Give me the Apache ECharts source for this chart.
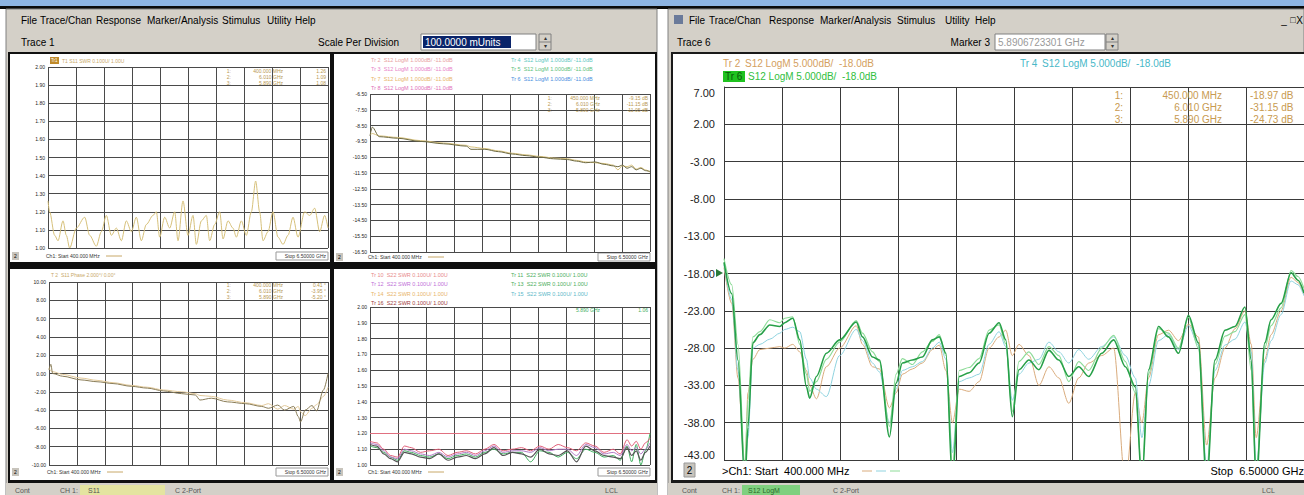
<!DOCTYPE html>
<html><head><meta charset="utf-8">
<script src="https://cdn.jsdelivr.net/npm/echarts@6/dist/echarts.min.js"></script>
<style>html,body{margin:0;padding:0;background:#fff;overflow:hidden}#c{width:1304px;height:495px}</style>
</head><body><div id="c"></div>
<script>
// ---------- DATA ----------
// Right window: S12 LogM, 400 MHz .. 6.5 GHz
const rFreq = [0.400,0.481,0.547,0.620,0.652,0.704,0.777,0.882,0.987,1.039,1.123,1.197,1.267,1.301,1.372,1.476,1.616,1.791,1.857,1.962,2.035,2.140,2.210,2.276,2.381,2.486,2.591,2.664,2.734,2.803,2.874,2.978,3.083,3.188,3.293,3.363,3.432,3.502,3.607,3.712,3.817,3.922,4.026,4.131,4.236,4.372,4.498,4.621,4.726,4.795,4.865,4.970,5.075,5.180,5.285,5.389,5.476,5.564,5.669,5.774,5.879,5.945,5.997,6.088,6.154,6.259,6.364,6.437,6.500];
const tr6 = [-16.5,-20.7,-29.6,-46,-38.6,-27.3,-26.2,-24.9,-25.1,-24.6,-24.0,-26.9,-33.2,-34.7,-31.8,-28.7,-26.9,-24.5,-26.5,-29.2,-29.6,-39.9,-32.7,-30.0,-29.6,-29.2,-26.9,-26.5,-28.7,-46,-31.8,-31.3,-30.0,-26.0,-24.6,-26.9,-37.2,-30.9,-29.6,-30.9,-28.3,-29.6,-31.8,-30.5,-31.8,-28.7,-26.9,-30.5,-33.2,-46,-30.9,-25.1,-26.5,-28.7,-23.6,-27.3,-46,-29.6,-25.6,-25.1,-22.5,-29.6,-46,-27.3,-24.2,-22.0,-17.9,-18.9,-20.6];
const tr5 = [-16.0,-19.5,-27.5,-44,-35,-26.5,-25.8,-24.2,-24.6,-24.0,-23.8,-27.5,-31.5,-33.8,-32.5,-29.5,-27.2,-24.3,-26.0,-28.5,-29.8,-38.5,-31.5,-29.4,-30.2,-28.5,-27.1,-26.2,-29.0,-44,-31.0,-30.6,-29.4,-25.6,-24.9,-27.4,-36.5,-29.8,-28.5,-30.2,-27.8,-29.0,-32.5,-29.8,-31.0,-28.0,-26.3,-29.8,-34.0,-45,-31.5,-25.4,-26.0,-28.0,-23.9,-28.0,-45,-30.2,-26.4,-25.8,-23.5,-31.0,-45,-28.0,-25.0,-22.6,-17.6,-18.4,-20.0];
const tr4 = [-16.8,-21.5,-31,-45,-40,-28,-27.5,-26.8,-26.0,-25.5,-25.2,-25.8,-29.5,-32.0,-33.5,-34.5,-29.0,-25.5,-27.0,-30.0,-31.2,-38.0,-33.5,-31.0,-30.5,-29.8,-28.0,-27.2,-29.5,-42,-32.5,-32.0,-31.5,-27.5,-25.8,-27.8,-35.0,-31.5,-30.0,-29.5,-27.2,-28.5,-30.0,-28.2,-29.5,-27.8,-26.5,-29.0,-32.0,-40,-33.0,-27.0,-26.2,-28.2,-25.0,-27.6,-44,-31.0,-27.6,-26.8,-24.5,-28.5,-44,-30.0,-27.0,-23.5,-19.0,-19.5,-21.0];
const tr2 = [-17.2,-22,-32,-44,-34,-29.5,-28.2,-28.0,-27.8,-28.0,-27.5,-28.5,-31.0,-33.0,-34.8,-30.5,-28.0,-25.0,-27.5,-30.5,-30.8,-36.0,-34.0,-31.5,-30.8,-30.0,-28.2,-27.6,-31.0,-38,-33.5,-33.8,-32.5,-28.0,-26.5,-25.6,-29.0,-27.5,-29.0,-33.0,-30.5,-32.0,-35.4,-32.0,-30.0,-29.0,-28.0,-46,-34.0,-38,-32.0,-26.2,-25.6,-27.0,-24.8,-26.5,-41,-32.0,-28.0,-25.4,-23.0,-27.5,-40,-29.5,-26.2,-23.0,-18.5,-19.2,-20.8];
const rTicks = ['-43.00','-38.00','-33.00','-28.00','-23.00','-18.00','-13.00','-8.00','-3.00','2.00','7.00'];

// Left window, top-left: S11 SWR
const tlFreq = [0.400,0.436,0.545,0.618,0.727,0.799,0.872,1.017,1.199,1.308,1.453,1.562,1.671,1.780,1.889,1.998,2.107,2.216,2.324,2.433,2.542,2.688,2.760,2.833,2.942,3.051,3.160,3.232,3.341,3.450,3.559,3.632,3.741,3.849,3.922,4.031,4.140,4.213,4.321,4.430,4.503,4.612,4.721,4.830,4.924,5.011,5.084,5.193,5.302,5.411,5.520,5.629,5.738,5.846,5.992,6.101,6.210,6.318,6.427,6.500];
const tlSwr = [1.26,1.20,1.07,1.04,1.15,1.07,1.00,1.11,1.17,1.07,1.01,1.09,1.18,1.07,1.11,1.04,1.15,1.09,1.17,1.04,1.13,1.18,1.20,1.06,1.17,1.11,1.20,1.04,1.26,1.07,1.18,1.02,1.15,1.18,1.04,1.13,1.20,1.05,1.15,1.11,1.06,1.15,1.07,1.20,1.37,1.20,1.04,1.09,1.20,1.06,1.02,1.07,1.17,1.06,1.20,1.18,1.22,1.09,1.18,1.11];
const tlTicks = ['1.00','1.10','1.20','1.30','1.40','1.50','1.60','1.70','1.80','1.90','2.00'];

// top-right: S12 LogM
const trFreq = [0.40,0.45,0.60,1.00,1.50,2.00,2.50,2.60,2.90,3.20,3.50,3.80,4.10,4.40,4.70,4.90,5.10,5.30,5.50,5.70,5.80,5.90,6.00,6.10,6.20,6.30,6.40,6.50];
const trA = [-9.15,-8.6,-9.2,-9.3,-9.5,-9.65,-9.8,-10.0,-10.0,-10.15,-10.3,-10.4,-10.5,-10.6,-10.65,-10.75,-10.85,-10.8,-10.95,-11.05,-11.1,-11.0,-11.2,-11.1,-11.3,-11.2,-11.35,-11.4];
const trB = [-9.1,-9.0,-9.15,-9.25,-9.45,-9.6,-9.75,-9.85,-9.95,-10.1,-10.25,-10.35,-10.45,-10.55,-10.6,-10.7,-10.8,-10.85,-10.9,-11.0,-11.3,-11.05,-11.1,-11.0,-11.25,-11.15,-11.3,-11.45];
const trTicks = ['-16.50','-15.50','-14.50','-13.50','-12.50','-11.50','-10.50','-9.50','-8.50','-7.50','-6.50'];

// bottom-left: S11 Phase
const blFreq = [0.40,0.44,0.48,0.70,1.10,1.45,1.80,2.20,2.55,2.90,3.30,3.60,3.70,3.95,4.30,4.70,5.05,5.20,5.40,5.55,5.75,5.85,5.90,6.00,6.15,6.25,6.40,6.50];
const blA = [0.4,1.0,0.0,-0.3,-0.7,-0.9,-1.1,-1.4,-1.6,-1.9,-2.2,-2.35,-2.9,-2.7,-3.1,-3.3,-3.6,-3.8,-3.45,-4.0,-3.6,-4.7,-5.3,-4.0,-3.5,-4.1,-1.8,0.0];
const blB = [0.6,0.3,0.2,-0.1,-0.5,-0.75,-1.0,-1.3,-1.5,-1.8,-2.0,-2.2,-2.4,-2.5,-2.9,-3.2,-3.5,-3.3,-3.9,-3.5,-3.9,-3.6,-4.2,-4.6,-3.8,-3.4,-2.5,-1.5];
const blTicks = ['-10.00','-8.00','-6.00','-4.00','-2.00','0.00','2.00','4.00','6.00','8.00','10.00'];

// bottom-right: SWR, several traces
const brFreq = [0.40,0.55,0.70,0.85,1.00,1.15,1.30,1.50,1.70,1.90,2.10,2.30,2.50,2.70,2.90,3.10,3.30,3.50,3.70,3.90,4.10,4.30,4.50,4.70,4.90,5.10,5.30,5.50,5.70,5.85,6.00,6.10,6.20,6.30,6.40,6.50];
const brRed = [1.15,1.14,1.10,1.06,1.05,1.12,1.11,1.08,1.09,1.10,1.06,1.08,1.09,1.07,1.10,1.13,1.09,1.10,1.11,1.09,1.12,1.10,1.13,1.11,1.09,1.14,1.12,1.08,1.10,1.07,1.16,1.12,1.15,1.10,1.14,1.17];
const brDark = [1.13,1.12,1.07,1.04,1.02,1.08,1.07,1.05,1.04,1.07,1.03,1.05,1.06,1.04,1.07,1.11,1.06,1.08,1.07,1.05,1.10,1.07,1.06,1.09,1.02,1.12,1.09,1.06,1.05,1.04,1.11,1.06,1.09,1.03,1.08,1.12];
const brPurple = [1.14,1.13,1.09,1.05,1.04,1.10,1.09,1.07,1.06,1.08,1.05,1.07,1.08,1.06,1.09,1.12,1.08,1.09,1.09,1.08,1.11,1.09,1.10,1.10,1.06,1.13,1.11,1.07,1.08,1.06,1.13,1.09,1.11,1.07,1.10,1.14];
const brGreen = [1.12,1.11,1.08,1.05,1.03,1.09,1.08,1.06,1.05,1.07,1.04,1.06,1.07,1.05,1.08,1.10,1.07,1.08,1.08,1.02,1.09,1.08,1.05,1.08,1.04,1.10,1.08,1.05,1.06,1.03,1.12,1.02,1.13,1.00,1.09,1.20];
const brLimit = 1.20;
const brTicks = ['1.00','1.10','1.20','1.30','1.40','1.50','1.60','1.70','1.80','1.90','2.00'];

const xDivs = ['0','1','2','3','4','5','6','7','8','9','10'];
const fStart = 0.4, fStop = 6.5;

// ---------- LAYOUT ----------
const FONT = '"Liberation Sans", Arial, sans-serif';
const grids = [
  {left:724, top:87, width:580, height:373},   // right big
  {left:48, top:67, width:280, height:181},    // TL
  {left:370, top:94, width:280, height:158},   // TR
  {left:49, top:282, width:279, height:183},   // BL
  {left:370, top:307, width:280, height:158}   // BR
];
const yRanges = [[-43,7],[1,2],[-16.5,-6.5],[-10,10],[1,2]];
const yTickSets = [rTicks, tlTicks, trTicks, blTicks, brTicks];
const labelSize = [11,5,5,5,5];

const xAxes = [], yAxes = [];
grids.forEach((g,i)=>{
  const big = i===0;
  xAxes.push({type:'category', gridIndex:i, data:xDivs, boundaryGap:false,
    axisLine:{show:false}, axisTick:{show:false}, axisLabel:{show:false},
    splitLine:{show:true, lineStyle:{color: big?'#3a3a3a':'#4a4a4a', width:1}}});
  xAxes.push({type:'value', gridIndex:i, min:fStart, max:fStop, show:false});
  yAxes.push({type:'category', gridIndex:i, data:yTickSets[i], boundaryGap:false,
    axisLine:{show:big, lineStyle:{color:'#3a3a3a'}}, axisTick:{show:false},
    axisLabel:{show:true, interval:0, fontSize:labelSize[i], fontFamily:FONT, color:'#222', margin: big?9:3,
      verticalAlignMinLabel: big?'bottom':'middle', verticalAlignMaxLabel: big?'top':'middle'},
    splitLine:{show:true, lineStyle:{color: big?'#3a3a3a':'#4a4a4a', width:1}}});
  yAxes.push({type:'value', gridIndex:i, min:yRanges[i][0], max:yRanges[i][1], show:false});
});

function zip(f,v){ return f.map((x,k)=>[x,v[k]]); }
function line(gi, f, v, color, w, extra){
  return Object.assign({type:'line', xAxisIndex:2*gi+1, yAxisIndex:2*gi+1, data:zip(f,v), showSymbol:false,
    symbol:'none', silent:true, animation:false, clip:true, smooth:0.3, smoothMonotone:'x',
    lineStyle:{color, width:w||1}, z:5}, extra||{});
}
const series = [
  line(0, rFreq, tr2, '#d9ab7c', 1),
  line(0, rFreq, tr4, '#8fd3df', 1),
  line(0, rFreq, tr5, '#8ddc98', 1.2),
  line(0, rFreq, tr6, '#27a048', 1.6),
  line(1, tlFreq, tlSwr, '#d6c07a', 1),
  line(2, trFreq, trB, '#d8c27e', 1),
  line(2, trFreq, trA, '#6e6a42', 1),
  line(3, blFreq, blB, '#e2c99a', 1),
  line(3, blFreq, blA, '#8a7d58', 1),
  line(4, brFreq, brGreen, '#3fae5e', 1),
  line(4, brFreq, brPurple, '#b27ac6', 1),
  line(4, brFreq, brDark, '#555555', 1.2),
  line(4, brFreq, brRed, '#e0607a', 1, {markLine:{silent:true, symbol:'none', label:{show:false},
      lineStyle:{color:'#e07080', type:'solid', width:1}, data:[{yAxis:brLimit}]}})
];

// ---------- CHROME (graphic) ----------
const G = [];
function R(x,y,w,h,fill,stroke,z){ G.push({type:'rect', silent:true, z: z===undefined?-10:z, shape:{x,y,width:w,height:h}, style:{fill, stroke:stroke||null, lineWidth:1}}); }
function L(x1,y1,x2,y2,c,z){ G.push({type:'line', silent:true, z: z===undefined?-5:z, shape:{x1,y1,x2,y2}, style:{stroke:c, lineWidth:1}}); }
function T(x,y,text,o){ o=o||{}; G.push({type:'text', silent:true, z:50, x, y, style:{text, fill:o.c||'#000',
  font:(o.b?'bold ':'')+(o.s||10)+'px '+FONT, textAlign:o.a||'left', textVerticalAlign:'middle'}}); }

// top band
R(0,0,1304,6,'#8db4e2');
R(0,6,1304,3,'#0a0a0a');
// gap between windows
R(657,9,11,486,'#ffffff');
// left window
R(6,9,651,486,'#d4d0c8','#808080');
R(8,52,649,431,'#101010');
R(10,54,320,208,'#ffffff');
R(334,54,321,208,'#ffffff');
R(10,269,320,211,'#ffffff');
R(334,269,321,211,'#ffffff');
R(6,483,651,12,'#d4d0c8');
// left menu
[['File',21],['Trace/Chan',40],['Response',96],['Marker/Analysis',147],['Stimulus',222],['Utility',267],['Help',295]].forEach(m=>T(m[1],20,m[0],{s:10}));
T(21,42,'Trace 1',{s:10});
T(318,42,'Scale Per Division',{s:10});
R(421,34,115,16,'#ffffff','#808080',-4);
R(423,36,88,12,'#0a246a',null,-3);
T(425,42,'100.0000 mUnits',{s:10,c:'#ffffff'});
R(539,34,12,16,'#d4d0c8','#808080',-4);
L(539,42,551,42,'#808080',-2);
T(545,38,'▴',{s:6,a:'center',c:'#333'});
T(545,46,'▾',{s:6,a:'center',c:'#333'});

// small plot headers and footers
R(50,57,9,7,'#c08a2a',null,-3);
T(51,60.5,'Tr1',{s:4.5,c:'#ffffff'});
T(62,60.5,'T1 S11 SWR 0.100U/ 1.00U',{s:5,c:'#c8a868'});
[['1:','400.000 MHz','1.26'],['2:','6.010 GHz','1.09'],['3:','5.890 GHz','1.08']].forEach((r,k)=>{
  const y=71+k*6; T(231,y,r[0],{s:5,c:'#b89850',a:'right'}); T(283,y,r[1],{s:5,c:'#b89850',a:'right'}); T(326,y,r[2],{s:5,c:'#b89850',a:'right'});
});
const trL = [['Tr 2  S12 LogM 1.000dB/ -11.0dB','#e8a0a0'],['Tr 3  S12 LogM 1.000dB/ -11.0dB','#e882c8'],['Tr 7  S12 LogM 1.000dB/ -11.0dB','#e8b468'],['Tr 8  S12 LogM 1.000dB/ -11.0dB','#e070b8']];
trL.forEach((t,k)=>T(371,60+k*9.3,t[0],{s:5.5,c:t[1]}));
const trR = [['Tr 4  S12 LogM 1.000dB/ -11.0dB','#5cc8c0'],['Tr 5  S12 LogM 1.000dB/ -11.0dB','#5cbf7c'],['Tr 6  S12 LogM 1.000dB/ -11.0dB','#4a8fe0']];
trR.forEach((t,k)=>T(511,60+k*9.3,t[0],{s:5.5,c:t[1]}));
[['1:','450.000 MHz','-9.15 dB'],['2:','6.010 GHz','-11.15 dB'],['3:','5.890 GHz','-11.05 dB']].forEach((r,k)=>{
  const y=98+k*6; T(552,y,r[0],{s:5,c:'#b89850',a:'right'}); T(600,y,r[1],{s:5,c:'#b89850',a:'right'}); T(648,y,r[2],{s:5,c:'#b89850',a:'right'});
});
T(51,275,'T 2  S11 Phase 2.000°/ 0.00°',{s:5,c:'#c8a868'});
[['1:','400.000 MHz','0.41 °'],['2:','6.010 GHz','-3.95 °'],['3:','5.890 GHz','-5.20 °']].forEach((r,k)=>{
  const y=285+k*6; T(231,y,r[0],{s:5,c:'#b89850',a:'right'}); T(283,y,r[1],{s:5,c:'#b89850',a:'right'}); T(326,y,r[2],{s:5,c:'#b89850',a:'right'});
});
const brL = [['Tr 10  S22 SWR 0.100U/ 1.00U','#e88a8a'],['Tr 12  S22 SWR 0.100U/ 1.00U','#c070d8'],['Tr 14  S22 SWR 0.100U/ 1.00U','#e8b468'],['Tr 16  S22 SWR 0.100U/ 1.00U','#a04040']];
brL.forEach((t,k)=>T(371,275+k*9.3,t[0],{s:5.5,c:t[1]}));
const brR = [['Tr 11  S22 SWR 0.100U/ 1.00U','#4cae5c'],['Tr 13  S22 SWR 0.100U/ 1.00U','#4cae5c'],['Tr 15  S22 SWR 0.100U/ 1.00U','#5cb8c8']];
brR.forEach((t,k)=>T(511,275+k*9.3,t[0],{s:5.5,c:t[1]}));
T(600,310,'5.890 GHz',{s:5,c:'#3fae5e',a:'right'}); T(648,310,'1.06',{s:5,c:'#3fae5e',a:'right'});

// footers of small plots
[[10,256,48,328],[334,257,370,650],[10,472,49,328],[334,472,370,650]].forEach(p=>{
  R(p[0]+2,p[1]-4,7,8,'#c8c4bc',null,-3); T(p[0]+5.5,p[1],'2',{s:5,a:'center'});
  T(p[2]-2,p[1],'Ch1: Start 400.000 MHz',{s:5,c:'#333'});
  L(p[2]+58,p[1],p[2]+74,p[1],'#c8a868',-2);
  R(p[3]-52,p[1]-4,52,8,'#ffffff','#999999',-3);
  T(p[3]-2,p[1],'Stop 6.50000 GHz',{s:5,c:'#333',a:'right'});
});
// left status bar
T(15,490,'Cont',{s:7,c:'#555'}); T(60,490,'CH 1:',{s:7,c:'#555'});
R(80,485,85,10,'#e4e4a0',null,-3); T(88,490,'S11',{s:7,c:'#555'});
T(175,490,'C 2-Port',{s:7,c:'#555'}); T(605,490,'LCL',{s:7,c:'#555'});

// right window
R(668,9,636,486,'#d4d0c8','#808080');
R(671,52,633,431,'#1a1a1a');
R(673,54,631,426,'#ffffff');
R(668,483,636,12,'#d4d0c8');
R(674,15,9,9,'#6a7a9a',null,-3);
[['File',689],['Trace/Chan',709],['Response',769],['Marker/Analysis',820],['Stimulus',897],['Utility',945],['Help',975]].forEach(m=>T(m[1],20,m[0],{s:10}));
T(1284,20,'_',{s:10,a:'center'}); T(1293,20,'□',{s:9,a:'center'}); T(1303,20,'X',{s:10,a:'right'});
T(677,42,'Trace 6',{s:10});
T(990,42,'Marker 3',{s:10,a:'right'});
R(995,34,110,16,'#ffffff','#808080',-4);
T(998,42,'5.8906723301 GHz',{s:10,c:'#9a9a9a'});
R(1106,34,12,16,'#d4d0c8','#808080',-4);
L(1106,42,1118,42,'#808080',-2);
T(1112,38,'▴',{s:6,a:'center',c:'#333'});
T(1112,46,'▾',{s:6,a:'center',c:'#333'});
// trace headers
T(723,63,'Tr 2',{s:10,c:'#d4a060'}); T(745,63,'S12 LogM 5.000dB/  -18.0dB',{s:10,c:'#d4a060'});
R(723,71,22,11,'#1fc21f',null,-3);
T(725,76.5,'Tr 6',{s:10,c:'#0a5a0a'}); T(748,76.5,'S12 LogM 5.000dB/  -18.0dB',{s:10,c:'#30c040'});
T(1020,63,'Tr 4',{s:10,c:'#48b8c8'}); T(1042,63,'S12 LogM 5.000dB/  -18.0dB',{s:10,c:'#48b8c8'});
// marker table
[['1:','450.000 MHz','-18.97 dB'],['2:','6.010 GHz','-31.15 dB'],['3:','5.890 GHz','-24.73 dB']].forEach((r,k)=>{
  const y=95+k*12; T(1123,y,r[0],{s:10,c:'#c89a50',a:'right'}); T(1222,y,r[1],{s:10,c:'#c89a50',a:'right'}); T(1250,y,r[2],{s:10,c:'#c89a50'});
});
// reference arrow at -18
G.push({type:'polygon', silent:true, z:40, shape:{points:[[716,269],[723,273],[716,277]]}, style:{fill:'#2a7a3a'}});
// footer
R(684,463,11,14,'#c8c4bc','#999',-3); T(689.5,470,'2',{s:10,a:'center'});
T(722,471,'>Ch1: Start  400.000 MHz',{s:11});
L(862,471,872,471,'#d9ab7c',-2); L(876,471,886,471,'#8fd3df',-2); L(890,471,900,471,'#8ddc98',-2);
T(1304,471,'Stop  6.50000 GHz',{s:11,a:'right'});
T(682,490,'Cont',{s:7,c:'#555'}); T(722,490,'CH 1:',{s:7,c:'#555'});
R(742,485,58,10,'#7fd07f',null,-3); T(748,490,'S12 LogM',{s:7,c:'#2a6a2a'});
T(833,490,'C 2-Port',{s:7,c:'#555'}); T(1262,490,'LCL',{s:7,c:'#555'});

const chart = echarts.init(document.getElementById('c'), null, {renderer:'svg', width:1304, height:495});
chart.setOption({
  animation:false,
  backgroundColor:'#ffffff',
  grid: grids.map(g=>Object.assign({show:false, containLabel:false}, g)),
  xAxis: xAxes, yAxis: yAxes, series, graphic: G
});
</script></body></html>
